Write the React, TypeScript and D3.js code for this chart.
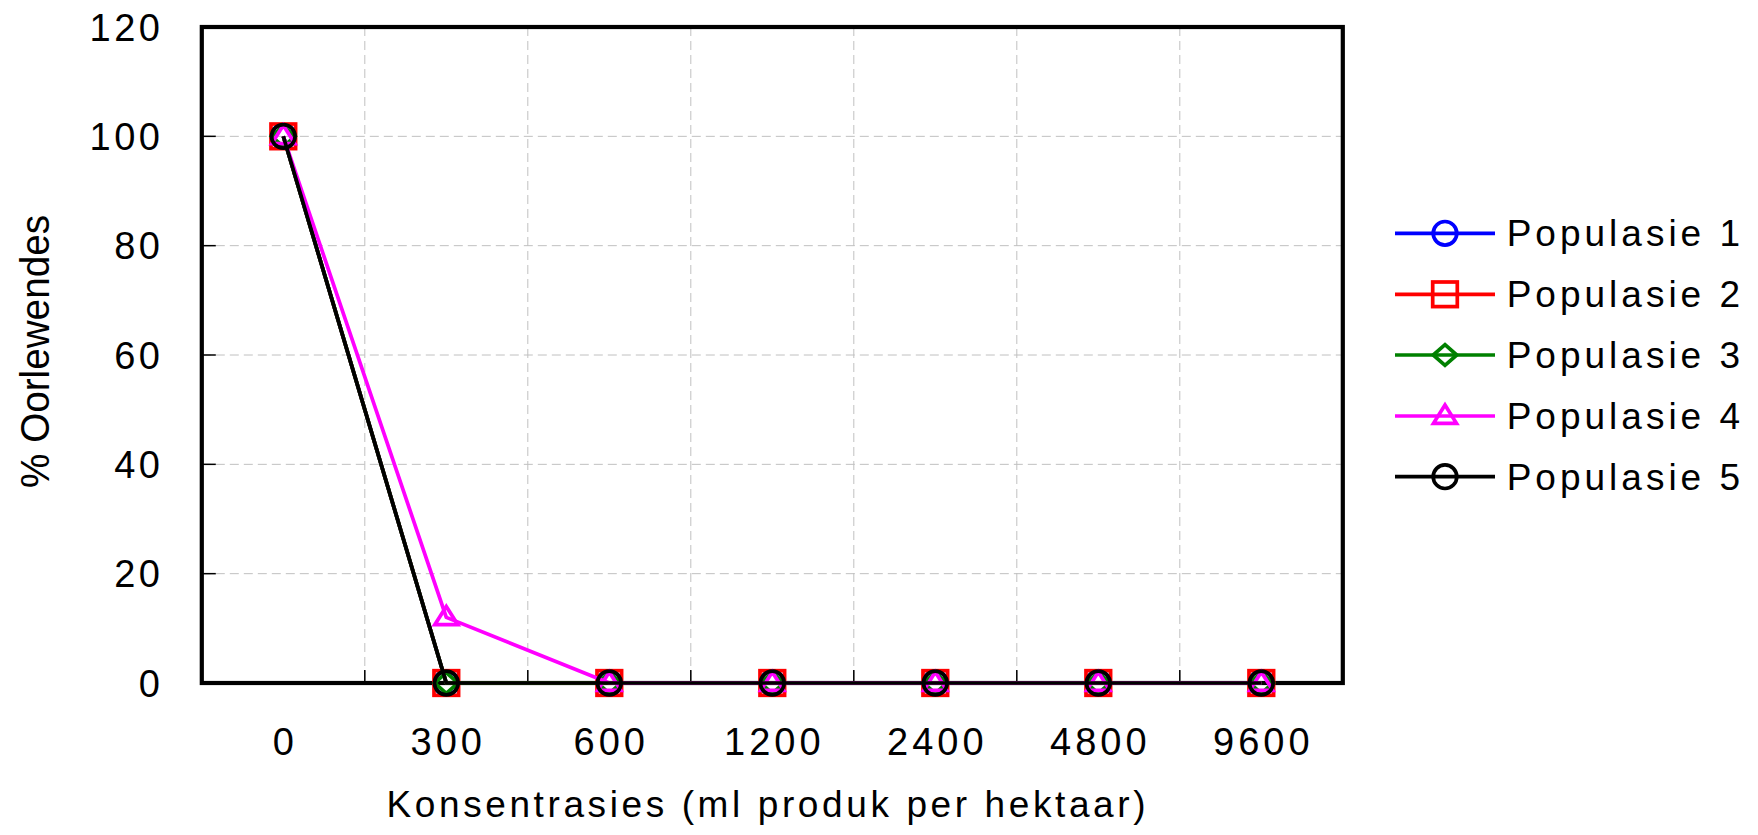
import React from "react";
import * as d3 from "d3";

const categories = ["0", "300", "600", "1200", "2400", "4800", "9600"];
const seriesNames = ["Populasie 1", "Populasie 2", "Populasie 3", "Populasie 4", "Populasie 5"];
const pop1 = [100, 0, 0, 0, 0, 0, 0];
const pop2 = [100, 0, 0, 0, 0, 0, 0];
const pop3 = [100, 0, 0, 0, 0, 0, 0];
const pop4 = [100, 12, 0, 0, 0, 0, 0];
const pop5 = [100, 0, 0, 0, 0, 0, 0];
const yTicks = [0, 20, 40, 60, 80, 100, 120];
const colors = ["#0000ff", "#ff0000", "#008000", "#ff00ff", "#000000"];
const shapes = ["circle", "square", "diamond", "triangle", "circle"];

const W = 1758, H = 835;
const L = 201.8, R = 1342.8, T = 27, B = 683;
const FONT = "'Liberation Sans', Arial, sans-serif";
const SW = 3.7;

function Marker({ shape, x, y, color }: { shape: string; x: number; y: number; color: string }) {
  const common = { fill: "none", stroke: color, strokeWidth: SW } as any;
  if (shape === "circle") return <circle cx={x} cy={y} r={11.8} {...common} />;
  if (shape === "square") return <rect x={x - 12.3} y={y - 12.3} width={24.6} height={24.6} {...common} />;
  if (shape === "diamond")
    return <path d={`M${x},${y - 10.3}L${x + 11.8},${y}L${x},${y + 10.3}L${x - 11.8},${y}Z`} {...common} />;
  return <path d={`M${x},${y - 11}L${x + 11.5},${y + 7.3}L${x - 11.5},${y + 7.3}Z`} {...common} />;
}

export default function App() {
  const data = [pop1, pop2, pop3, pop4, pop5];
  const x = d3.scaleBand<string>().domain(categories).range([L, R]).padding(0);
  const y = d3.scaleLinear().domain([0, 120]).range([B, T]);
  const cx = (c: string) => (x(c) as number) + x.bandwidth() / 2;
  const line = d3
    .line<number>()
    .x((_, i) => cx(categories[i]))
    .y((v) => y(v));
  const bounds = categories.slice(1).map((c) => x(c) as number);
  const legendY = [233.3, 294.3, 355, 416, 476.7];

  return (
    <svg width={W} height={H} style={{ position: "absolute", left: 0, top: 0, background: "#fff" }}>
      <rect x={0} y={0} width={W} height={H} fill="#fff" />
      {/* gridlines */}
      {yTicks.filter((t) => t > 0 && t < 120).map((t) => (
        <line key={"gy" + t} x1={L} x2={R} y1={y(t)} y2={y(t)} stroke="#c0c0c0" strokeWidth={1} strokeDasharray="9,5" />
      ))}
      {bounds.map((b, i) => (
        <line key={"gx" + i} x1={b} x2={b} y1={T} y2={B} stroke="#c0c0c0" strokeWidth={1} strokeDasharray="9,5" />
      ))}
      {/* ticks */}
      {yTicks.filter((t) => t > 0 && t < 120).map((t) => (
        <line key={"ty" + t} x1={L} x2={L + 14} y1={y(t)} y2={y(t)} stroke="#000" strokeWidth={1.5} />
      ))}
      {bounds.map((b, i) => (
        <line key={"tx" + i} x1={b} x2={b} y1={B} y2={B - 13} stroke="#000" strokeWidth={1.5} />
      ))}
      {/* frame */}
      <rect x={L} y={T} width={R - L} height={B - T} fill="none" stroke="#000" strokeWidth={4.2} />
      {/* series */}
      {data.map((s, i) => (
        <g key={"s" + i}>
          <path d={line(s) || ""} fill="none" stroke={colors[i]} strokeWidth={SW} strokeLinejoin="round" />
          {s.map((v, j) => (
            <Marker key={j} shape={shapes[i]} x={cx(categories[j])} y={y(v)} color={colors[i]} />
          ))}
        </g>
      ))}
      {/* y tick labels */}
      {yTicks.map((t) => (
        <text key={"ly" + t} x={160 + 3.5} y={y(t) + 13.6} textAnchor="end" fontFamily={FONT} fontSize={38} letterSpacing={3.5} fill="#000">
          {t}
        </text>
      ))}
      {/* x tick labels */}
      {categories.map((c) => (
        <text key={"lx" + c} x={cx(c) + 2} y={755} textAnchor="middle" fontFamily={FONT} fontSize={38} letterSpacing={4} fill="#000">
          {c}
        </text>
      ))}
      {/* axis titles */}
      <text x={386.5} y={817} fontFamily={FONT} fontSize={37} textLength={759} lengthAdjust="spacing" fill="#000">
        Konsentrasies (ml produk per hektaar)
      </text>
      <text transform="translate(49,351.5) rotate(-90)" textAnchor="middle" fontFamily={FONT} fontSize={40} textLength={273} lengthAdjust="spacingAndGlyphs" fill="#000">
        % Oorlewendes
      </text>
      {/* legend */}
      {seriesNames.map((n, i) => (
        <g key={"lg" + i}>
          <line x1={1395} x2={1495} y1={legendY[i]} y2={legendY[i]} stroke={colors[i]} strokeWidth={SW} />
          <Marker shape={shapes[i]} x={1445} y={legendY[i]} color={colors[i]} />
          <text x={1506.7} y={legendY[i] + 13} fontFamily={FONT} fontSize={37} letterSpacing={4} fill="#000">
            {n}
          </text>
        </g>
      ))}
    </svg>
  );
}
